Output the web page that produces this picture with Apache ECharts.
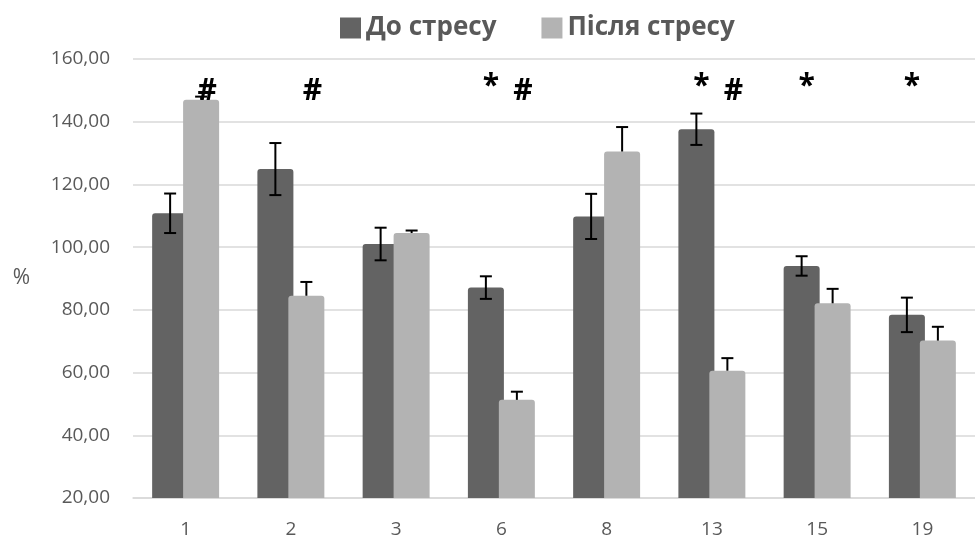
<!DOCTYPE html>
<html>
<head>
<meta charset="utf-8">
<script src="https://cdn.jsdelivr.net/npm/echarts@6/dist/echarts.min.js"></script>
<style>
  html, body { margin: 0; padding: 0; background: #fff; }
  #chart { width: 975px; height: 542px; }
</style>
</head>
<body>
<div id="chart"></div>
<script>
// групи
const categories = ['1', '2', '3', '6', '8', '13', '15', '19']
// До стресу
const beforeValues = [110.8, 124.9, 101.0, 87.1, 109.8, 137.6, 94.0, 78.4]
const beforeErr = [6.3, 8.3, 5.2, 3.6, 7.2, 5.0, 3.1, 5.5]
// Після стресу
const afterValues = [147.0, 84.5, 104.5, 51.3, 130.5, 60.6, 82.1, 70.2]
const afterErr = [1.0, 4.4, 0.8, 2.6, 7.8, 4.0, 4.6, 4.4]
// позначки значущості
const starCats = ['6', '13', '15', '19']
const hashCats = ['1', '2', '6', '13']
const yTicks = [20, 40, 60, 80, 100, 120, 140, 160]

const DARK = '#636363'
const LIGHT = '#b3b3b3'
const TEXT = '#595959'
const FONT = '"Open Sans", "Noto Sans", sans-serif'
const BAR_W = 36
const BAR_SHIFT = 15.5

const chart = echarts.init(document.getElementById('chart'))

function errorBars (values, errs, shift, both) {
  return {
    type: 'custom',
    silent: true,
    z: 5,
    data: values.map((v, i) => [i, v, errs[i]]),
    renderItem: (params, api) => {
      const i = api.value(0)
      const v = api.value(1)
      const e = api.value(2)
      const top = api.coord([i, v + e])
      const bot = api.coord([i, both ? v - e : v])
      const x = top[0] + shift
      const style = { stroke: '#000', lineWidth: 2 }
      const children = [
        { type: 'line', shape: { x1: x, y1: top[1], x2: x, y2: bot[1] }, style },
        { type: 'line', shape: { x1: x - 6, y1: top[1], x2: x + 6, y2: top[1] }, style }
      ]
      if (both) {
        children.push({ type: 'line', shape: { x1: x - 6, y1: bot[1], x2: x + 6, y2: bot[1] }, style })
      }
      return { type: 'group', children }
    }
  }
}

function marks (cats, text, level, shift) {
  return {
    type: 'custom',
    silent: true,
    z: 10,
    data: cats.map(c => [categories.indexOf(c), level]),
    renderItem: (params, api) => {
      const p = api.coord([api.value(0), api.value(1)])
      return {
        type: 'text',
        style: {
          x: p[0] + shift,
          y: p[1],
          text,
          fill: '#000',
          font: 'bold 30px ' + FONT,
          textAlign: 'center',
          textVerticalAlign: 'middle'
        }
      }
    }
  }
}

const option = {
  animation: false,
  textStyle: { fontFamily: FONT },
  legend: {
    top: 10,
    left: 335,
    itemWidth: 21,
    itemHeight: 21,
    itemGap: 45,
    icon: 'rect',
    textStyle: { fontSize: 26, fontWeight: 'bold', color: TEXT, fontFamily: FONT },
    data: ['До стресу', 'Після стресу']
  },
  grid: { left: 133, right: -11, top: 59, bottom: 44 },
  xAxis: {
    type: 'category',
    data: categories,
    axisLine: { lineStyle: { color: '#d9d9d9', width: 1.5 } },
    axisTick: { show: false },
    axisLabel: { color: TEXT, fontSize: 19, margin: 22 }
  },
  yAxis: {
    type: 'value',
    min: yTicks[0],
    max: yTicks[yTicks.length - 1],
    interval: 20,
    name: '%',
    nameLocation: 'middle',
    nameRotate: 0,
    nameGap: 103,
    nameTextStyle: { color: TEXT, fontSize: 21 },
    axisLine: { show: false },
    axisTick: { show: false },
    axisLabel: {
      color: TEXT,
      fontSize: 19,
      margin: 23,
      formatter: v => v.toFixed(2).replace('.', ',')
    },
    splitLine: { lineStyle: { color: '#d9d9d9', width: 1.5 } }
  },
  series: [
    {
      name: 'До стресу',
      type: 'bar',
      barWidth: BAR_W,
      barGap: '-14%',
      itemStyle: { color: DARK, borderRadius: [3, 3, 0, 0] },
      data: beforeValues
    },
    {
      name: 'Після стресу',
      type: 'bar',
      barWidth: BAR_W,
      itemStyle: { color: LIGHT, borderRadius: [3, 3, 0, 0] },
      data: afterValues
    },
    errorBars(beforeValues, beforeErr, -BAR_SHIFT, true),
    errorBars(afterValues, afterErr, BAR_SHIFT, false),
    marks(starCats, '*', 151.2, -BAR_SHIFT + 5),
    marks(hashCats, '#', 149.6, BAR_SHIFT + 6)
  ]
}

chart.setOption(option, true)
</script>
</body>
</html>
